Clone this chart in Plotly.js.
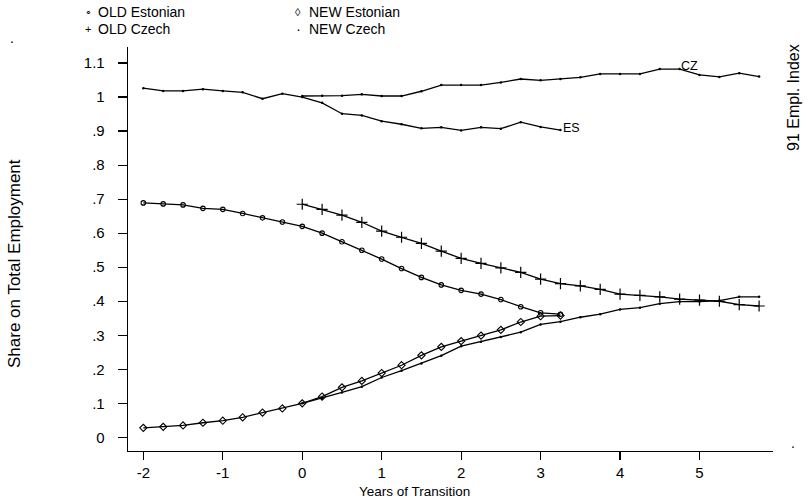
<!DOCTYPE html>
<html>
<head>
<meta charset="utf-8">
<script src="https://cdn.plot.ly/plotly-3.0.1.min.js"></script>
<style>html,body{margin:0;padding:0;background:#fff;}#chart{width:809px;height:501px;}</style>
</head>
<body>
<div id="chart"></div>
<script>
// Years of transition (quarterly)
var estYears = [-2,-1.75,-1.5,-1.25,-1,-0.75,-0.5,-0.25,0,0.25,0.5,0.75,1,1.25,1.5,1.75,2,2.25,2.5,2.75,3,3.25];
var czYears  = [0,0.25,0.5,0.75,1,1.25,1.5,1.75,2,2.25,2.5,2.75,3,3.25,3.5,3.75,4,4.25,4.5,4.75,5,5.25,5.5,5.75];

// Share on total employment
var oldEstonian = [0.689,0.686,0.683,0.673,0.670,0.658,0.645,0.633,0.620,0.600,0.575,0.550,0.524,0.496,0.470,0.448,0.432,0.421,0.405,0.384,0.366,0.362];
var newEstonian = [0.028,0.031,0.035,0.043,0.049,0.059,0.073,0.085,0.100,0.120,0.147,0.166,0.189,0.212,0.241,0.266,0.283,0.299,0.316,0.339,0.356,0.358];
var oldCzech    = [0.685,0.670,0.653,0.632,0.606,0.588,0.570,0.547,0.526,0.511,0.498,0.485,0.465,0.452,0.445,0.435,0.421,0.417,0.413,0.406,0.403,0.400,0.390,0.386];
var newCzech    = [0.100,0.115,0.132,0.149,0.176,0.196,0.217,0.240,0.268,0.281,0.295,0.309,0.332,0.340,0.353,0.362,0.376,0.381,0.393,0.399,0.399,0.402,0.413,0.413];

// 1991 employment index
var indexES = [1.026,1.018,1.018,1.023,1.018,1.014,0.995,1.010,1.000,0.983,0.951,0.946,0.929,0.920,0.908,0.911,0.902,0.911,0.907,0.926,0.912,0.903];
var indexCZ = [1.003,1.004,1.004,1.008,1.003,1.003,1.017,1.035,1.035,1.035,1.043,1.053,1.049,1.053,1.058,1.068,1.068,1.068,1.082,1.082,1.065,1.059,1.070,1.060];

var xTicks = [-2,-1,0,1,2,3,4,5];
var xTickText = ['-2','-1','0','1','2','3','4','5'];
var yTicks = [0,0.1,0.2,0.3,0.4,0.5,0.6,0.7,0.8,0.9,1,1.1];
var yTickText = ['0','.1','.2','.3','.4','.5','.6','.7','.8','.9','1','1.1'];

var legendNames = ['OLD Estonian','NEW Estonian','OLD Czech','NEW Czech'];
var legendGlyphs = ['\u2218','\u25CA','+','\u00B7'];

var LINE = {color:'#000', width:1.3};
var REG = '"Liberation Sans", Arial, sans-serif';

function tr(name, x, y, marker){
  return {type:'scatter', mode:'lines+markers', name:name, x:x, y:y, line:LINE,
          marker:marker, showlegend:false, hoverinfo:'x+y+name'};
}

var data = [
  tr('91 Empl. Index ES', estYears, indexES, {symbol:'circle', size:2.5, color:'#000'}),
  tr('91 Empl. Index CZ', czYears, indexCZ, {symbol:'circle', size:2.5, color:'#000'}),
  tr(legendNames[0], estYears, oldEstonian, {symbol:'circle-open', size:4.5, color:'#000', line:{width:1.1, color:'#000'}}),
  tr(legendNames[1], estYears, newEstonian, {symbol:'diamond-open', size:5.5, color:'#000', line:{width:1.1, color:'#000'}}),
  tr(legendNames[2], czYears, oldCzech, {symbol:'cross-thin-open', size:8, color:'#000', line:{width:1.2, color:'#000'}}),
  tr(legendNames[3], czYears, newCzech, {symbol:'circle', size:2.5, color:'#000'})
];

// plot area in pixels: x 128..773, y 47..451
var L = 128, R = 773, T = 47, B = 451;
function px(x){ return (x - L) / (R - L); }
function py(y){ return (B - y) / (B - T); }

var annotations = [];
// legend
var legPos = [[88, 96, 12],[298, 307, 12],[88, 96, 29],[298, 307, 29]];
for (var i = 0; i < 4; i++) {
  annotations.push({xref:'paper', yref:'paper', x:px(legPos[i][0]), y:py(legPos[i][2]), text:legendGlyphs[i],
    showarrow:false, xanchor:'center', yanchor:'middle', font:{family:REG, size:i===3?15:11, color:'#000'}});
  annotations.push({xref:'paper', yref:'paper', x:px(legPos[i][1]), y:py(legPos[i][2]), text:legendNames[i],
    showarrow:false, xanchor:'left', yanchor:'middle', font:{family:REG, size:14, color:'#000'}});
}
// series labels
annotations.push({x:czYears[19], y:indexCZ[19], text:'CZ', showarrow:false, xanchor:'left', yanchor:'middle',
  xshift:-1, yshift:3, font:{family:REG, size:12.5, color:'#000'}});
annotations.push({x:estYears[21], y:indexES[21], text:'ES', showarrow:false, xanchor:'left', yanchor:'middle',
  xshift:1, yshift:2, font:{family:REG, size:12.5, color:'#000'}});
// axis titles
annotations.push({xref:'paper', yref:'paper', x:px(414), y:py(491), text:'Years of Transition', showarrow:false,
  xanchor:'center', yanchor:'middle', font:{family:REG, size:13.5, color:'#000'}});
annotations.push({xref:'paper', yref:'paper', x:px(14), y:py(264), text:'Share on Total Employment', showarrow:false,
  textangle:-90, xanchor:'center', yanchor:'middle', font:{family:REG, size:17, color:'#000'}});
annotations.push({xref:'paper', yref:'paper', x:px(793), y:py(98), text:'91 Empl. Index', showarrow:false,
  textangle:-90, xanchor:'center', yanchor:'middle', font:{family:REG, size:16, color:'#000'}});
// stray dots of the original
annotations.push({xref:'paper', yref:'paper', x:px(12), y:py(48), text:'.', showarrow:false,
  xanchor:'center', yanchor:'bottom', font:{family:REG, size:14, color:'#000'}});
annotations.push({xref:'paper', yref:'paper', x:px(793), y:py(453), text:'.', showarrow:false,
  xanchor:'center', yanchor:'bottom', font:{family:REG, size:14, color:'#000'}});

var layout = {
  width:809, height:501,
  margin:{l:L, r:809-R, t:T, b:501-B, pad:0},
  paper_bgcolor:'#fff', plot_bgcolor:'#fff',
  showlegend:false,
  font:{family:REG, color:'#000'},
  xaxis:{range:[-2.193, 5.925], tickvals:xTicks, ticktext:xTickText, showgrid:false, zeroline:false,
    showline:true, linecolor:'#000', linewidth:1.3, ticks:'outside', ticklen:8, tickwidth:1.2, tickcolor:'#000',
    tickfont:{family:REG, size:15, color:'#000'}, ticklabelstandoff:0},
  yaxis:{range:[-0.040, 1.147], tickvals:yTicks, ticktext:yTickText, showgrid:false, zeroline:false,
    showline:true, linecolor:'#000', linewidth:1.3, ticks:'outside', ticklen:9, tickwidth:1.2, tickcolor:'#000',
    tickfont:{family:REG, size:15, color:'#000'}, ticklabelstandoff:10},
  annotations:annotations
};

Plotly.newPlot('chart', data, layout, {displayModeBar:false, staticPlot:true});
</script>
</body>
</html>
